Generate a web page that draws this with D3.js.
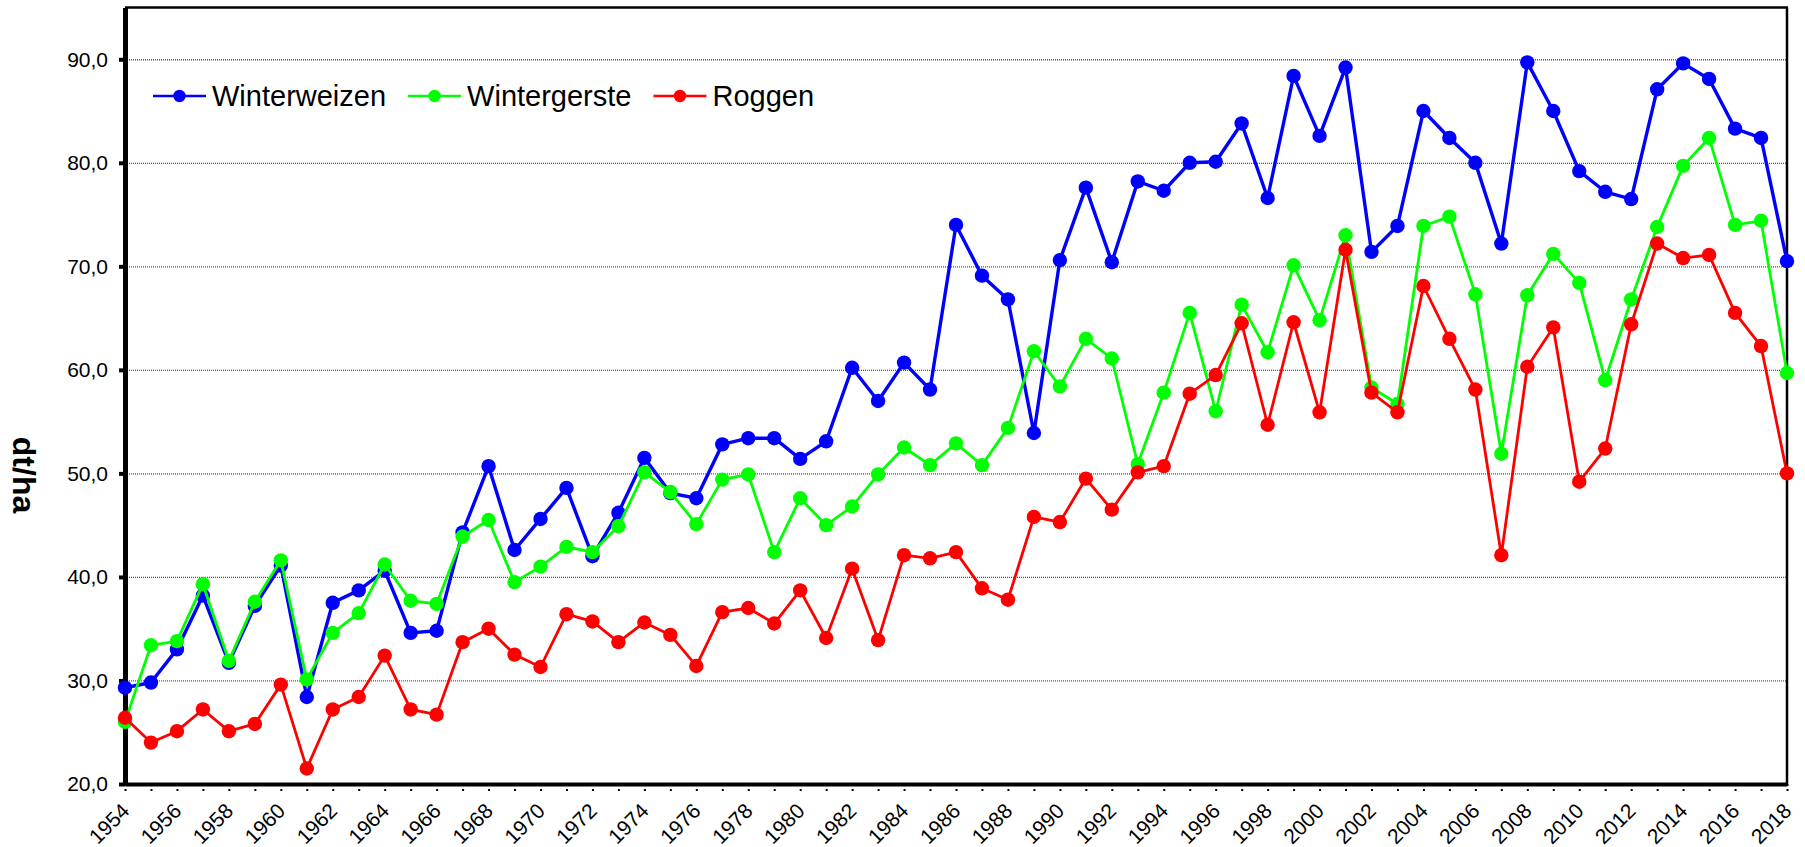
<!DOCTYPE html>
<html lang="de">
  <head>
    <meta charset="utf-8">
    <title>Ertraege</title>
    <script src="https://d3js.org/d3.v7.min.js"></script>
    <style>
      body { margin: 0; background: #fff; }
      text { font-family: "Liberation Sans", Arial, sans-serif; }
    </style>
  </head>
  <body>
    <script>
    var w = 1805;
    var h = 847;

    var years = d3.range(1954, 2019);
    var yTicks = [20, 30, 40, 50, 60, 70, 80, 90];
    var seriesNames = ["Winterweizen", "Wintergerste", "Roggen"];
    var seriesColors = ["#0000ff", "#00ff00", "#ff0000"];

    var winterweizen = [29.3, 29.8, 33.0, 38.2, 31.7, 37.2, 41.1, 28.4, 37.5, 38.7,
      40.6, 34.6, 34.8, 44.3, 50.7, 42.6, 45.6, 48.6, 42.0, 46.2,
      51.5, 48.1, 47.6, 52.8, 53.4, 53.4, 51.4, 53.1, 60.2, 57.0,
      60.7, 58.1, 74.0, 69.1, 66.8, 53.9, 70.6, 77.6, 70.4, 78.2,
      77.3, 80.0, 80.1, 83.8, 76.6, 88.4, 82.6, 89.2, 71.4, 73.9,
      85.0, 82.4, 80.0, 72.2, 89.7, 85.0, 79.2, 77.2, 76.5, 87.1,
      89.6, 88.1, 83.3, 82.4, 70.5];
    var wintergerste = [26.0, 33.4, 33.8, 39.3, 31.9, 37.6, 41.6, 30.1, 34.6, 36.5,
      41.2, 37.7, 37.4, 43.9, 45.5, 39.5, 41.0, 42.9, 42.4, 44.9,
      50.1, 48.2, 45.1, 49.4, 49.9, 42.4, 47.6, 45.0, 46.8, 49.9,
      52.5, 50.8, 52.9, 50.8, 54.4, 61.8, 58.4, 63.0, 61.1, 50.9,
      57.8, 65.5, 56.0, 66.3, 61.7, 70.1, 64.8, 73.0, 58.3, 56.7,
      73.9, 74.8, 67.3, 51.9, 67.2, 71.2, 68.4, 59.0, 66.8, 73.8,
      79.7, 82.4, 74.0, 74.4, 59.7];
    var roggen = [26.4, 24.0, 25.1, 27.2, 25.1, 25.8, 29.6, 21.5, 27.2, 28.4,
      32.4, 27.2, 26.7, 33.7, 35.0, 32.5, 31.3, 36.4, 35.7, 33.7,
      35.6, 34.4, 31.4, 36.6, 37.0, 35.5, 38.7, 34.1, 40.8, 33.9,
      42.1, 41.8, 42.4, 38.9, 37.8, 45.8, 45.3, 49.5, 46.5, 50.1,
      50.7, 57.7, 59.5, 64.5, 54.7, 64.6, 55.9, 71.6, 57.8, 55.9,
      68.1, 63.0, 58.1, 42.1, 60.3, 64.1, 49.2, 52.4, 64.4, 72.2,
      70.8, 71.1, 65.5, 62.3, 50.0];
    var seriesValues = [winterweizen, wintergerste, roggen];

    var pLeft = 125, pRight = 1787, pTop = 7.5, pBottom = 784;
    var xscale = d3.scaleLinear().domain([1954, 2018]).range([pLeft, pRight]);
    var yscale = d3.scaleLinear().domain([20, 95]).range([pBottom, pTop]);

    var svg = d3.select("body").append("svg").attr("width", w).attr("height", h);

    // gridlines
    var grid = svg.append("g")
      .attr("transform", "translate(" + pLeft + ",0)")
      .call(d3.axisLeft(yscale).tickValues(yTicks.slice(1)).tickSize(-(pRight - pLeft)).tickFormat(""));
    grid.select(".domain").remove();
    grid.selectAll("line")
      .attr("stroke", "#555")
      .attr("stroke-width", 1.3)
      .attr("stroke-dasharray", "1,1");

    // frame top / right
    svg.append("line").attr("x1", pLeft).attr("x2", pRight + 1).attr("y1", pTop).attr("y2", pTop)
      .attr("stroke", "#000").attr("stroke-width", 2.5);
    svg.append("line").attr("x1", pRight).attr("x2", pRight).attr("y1", pTop).attr("y2", pBottom)
      .attr("stroke", "#000").attr("stroke-width", 2.5);

    // x axis
    var xAxis = d3.axisBottom(xscale)
      .tickValues(years)
      .tickSizeInner(9)
      .tickSizeOuter(0)
      .tickFormat(function(d) { return d % 2 == 0 ? String(d) : ""; });
    var gx = svg.append("g").attr("transform", "translate(0," + pBottom + ")").call(xAxis);
    gx.select(".domain").attr("stroke", "#000").attr("stroke-width", 4);
    gx.selectAll(".tick line").attr("stroke", "#000").attr("stroke-width", 2).attr("stroke-dasharray", "2,3");
    gx.selectAll(".tick text")
      .attr("font-size", 21)
      .attr("fill", "#000")
      .attr("text-anchor", "end")
      .attr("y", 0)
      .attr("dy", "0.35em")
      .attr("transform", "translate(0,23) rotate(-45)");

    // y axis
    var yAxis = d3.axisLeft(yscale)
      .tickValues(yTicks)
      .tickSizeInner(6)
      .tickSizeOuter(0)
      .tickPadding(11)
      .tickFormat(function(d) { return d3.format(".1f")(d).replace(".", ","); });
    var gy = svg.append("g").attr("transform", "translate(" + pLeft + ",0)").call(yAxis);
    gy.select(".domain").attr("stroke", "#000").attr("stroke-width", 5);
    gy.selectAll(".tick line").attr("stroke", "#000").attr("stroke-width", 4);
    gy.selectAll(".tick text").attr("font-size", 21).attr("fill", "#000");

    // y title
    svg.append("text")
      .attr("transform", "translate(13,475) rotate(90)")
      .attr("text-anchor", "middle")
      .attr("font-size", 32)
      .attr("font-weight", "bold")
      .text("dt/ha");

    // series
    var line = d3.line()
      .x(function(d, i) { return xscale(years[i]); })
      .y(function(d) { return yscale(d); });

    seriesValues.forEach(function(vals, k) {
      var g = svg.append("g");
      g.append("path")
        .attr("d", line(vals))
        .attr("fill", "none")
        .attr("stroke", seriesColors[k])
        .attr("stroke-width", k == 0 ? 3.4 : 2.8)
        .attr("stroke-linejoin", "round");
      g.selectAll("circle")
        .data(vals)
        .enter()
        .append("circle")
        .attr("cx", function(d, i) { return xscale(years[i]); })
        .attr("cy", function(d) { return yscale(d); })
        .attr("r", 7.2)
        .attr("fill", seriesColors[k]);
    });

    // legend
    var lx = 153, ly = 96;
    seriesNames.forEach(function(name, k) {
      var g = svg.append("g");
      g.append("line").attr("x1", lx).attr("x2", lx + 53).attr("y1", ly).attr("y2", ly)
        .attr("stroke", seriesColors[k]).attr("stroke-width", 2.6);
      g.append("circle").attr("cx", lx + 26.5).attr("cy", ly).attr("r", 6.2).attr("fill", seriesColors[k]);
      var t = g.append("text").attr("x", lx + 59).attr("y", ly).attr("dy", "0.35em")
        .attr("font-size", 29).attr("fill", "#000").text(name);
      lx = lx + 59 + t.node().getComputedTextLength() + 22;
    });
    </script>
  </body>
</html>
